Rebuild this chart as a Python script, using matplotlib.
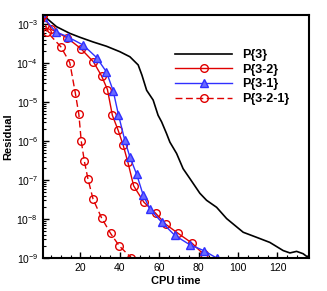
import matplotlib
matplotlib.use('Agg')
import matplotlib.pyplot as plt
import numpy as np
from matplotlib.ticker import LogLocator, MultipleLocator, NullFormatter

plt.rcParams['font.family'] = ['Liberation Sans', 'DejaVu Sans']

# P{3} (no markers)
t_p3 = [1, 2.8, 7.9, 14.6, 19.7, 26.4, 33.2, 40.0, 45.1, 49.3, 51.2, 53.6, 56.9,
        59.4, 61.2, 63.7, 65.4, 68.8, 72.1, 75.5, 80.6, 84.0, 89.1, 94.2, 102.6,
        109.4, 116.1, 122.9, 126.3, 129.7, 133.0, 135.9]
r_p3 = [-2.77, -2.85, -3.07, -3.24, -3.34, -3.46, -3.57, -3.71, -3.84, -4.05, -4.31,
        -4.70, -4.95, -5.34, -5.51, -5.81, -6.03, -6.32, -6.71, -6.96, -7.34, -7.52,
        -7.70, -7.99, -8.34, -8.47, -8.60, -8.81, -8.87, -8.83, -8.89, -9.0]

# P{3-2}
t_p32 = [1, 5.3, 13.1, 20.2, 26.6, 30.7, 33.7, 36.2, 39.1, 41.7, 44.1, 47.0, 52.2,
         58.1, 63.4, 69.6, 76.4, 82.6]
r_p32 = [-2.77, -3.14, -3.35, -3.63, -3.97, -4.33, -4.68, -5.34, -5.72, -6.11, -6.55,
         -7.15, -7.57, -7.85, -8.14, -8.37, -8.61, -8.91]

# P{3-1}
t_p31 = [1, 7.5, 13.6, 21.4, 28.2, 33.2, 36.6, 39.3, 42.5, 45.1, 48.5, 51.8, 55.2,
         61.2, 67.9, 75.5, 82.6, 89.1]
r_p31 = [-2.82, -3.20, -3.33, -3.54, -3.86, -4.23, -4.71, -5.33, -5.98, -6.41, -6.85,
         -7.38, -7.74, -8.08, -8.42, -8.66, -8.81, -9.0]

# P{3-2-1}
t_p321 = [1, 3.2, 10.0, 14.6, 17.4, 19.2, 20.4, 22.0, 23.8, 26.4, 30.7, 35.3, 39.7, 45.9]
r_p321 = [-2.77, -3.21, -3.58, -3.99, -4.77, -5.32, -6.0, -6.52, -6.97, -7.49, -7.97,
          -8.37, -8.69, -9.0]

x_ticks = [20, 40, 60, 80, 100, 120]
y_ticks = [1e-9, 1e-8, 1e-7, 1e-6, 1e-5, 1e-4, 1e-3]

fig = plt.figure(figsize=(3.27, 2.91), dpi=100)
ax = fig.add_axes([0.1315, 0.1134, 0.8135, 0.835])

ax.plot(t_p3, 10.0 ** np.array(r_p3), color='black', lw=1.2, label='P{3}')
ax.plot(t_p32, 10.0 ** np.array(r_p32), color='#e00000', lw=1.0, marker='o', ms=5.5,
        mfc='none', mew=1.0, label='P{3-2}')
ax.plot(t_p31, 10.0 ** np.array(r_p31), color='#3030ff', lw=1.0, marker='^', ms=5.2,
        mfc='#6a6aff', mew=1.0, label='P{3-1}')
ax.plot(t_p321, 10.0 ** np.array(r_p321), color='#e00000', lw=1.0, marker='o', ms=5.5,
        mfc='none', mew=1.0, dashes=(5, 2.5), label='P{3-2-1}')

ax.set_yscale('log')
ax.set_xlim(1, 136)
ax.set_ylim(1e-9, 1.7e-3)
ax.set_xticks(x_ticks)
ax.set_yticks(y_ticks)
ax.xaxis.set_minor_locator(MultipleLocator(5))
ax.yaxis.set_minor_locator(LogLocator(base=10, subs=np.arange(2, 10), numticks=20))
ax.yaxis.set_minor_formatter(NullFormatter())

ax.tick_params(which='both', direction='in', top=False, right=False, labelsize=7.5)
ax.tick_params(which='major', length=4, width=1.0)
ax.tick_params(which='minor', length=2, width=0.8)
for s in ax.spines.values():
    s.set_linewidth(1.5)

ax.set_xlabel('CPU time', fontsize=8, fontweight='bold', labelpad=2)
ax.set_ylabel('Residual', fontsize=8, fontweight='bold', labelpad=2)

leg = ax.legend(loc='upper left', bbox_to_anchor=(0.535, 0.832),
                bbox_transform=fig.transFigure, frameon=False, fontsize=9,
                handlelength=4.6, handletextpad=0.8, labelspacing=0.22,
                borderpad=0, borderaxespad=0)
for txt in leg.get_texts():
    txt.set_fontweight('bold')

fig.savefig('out.png', dpi=100)
